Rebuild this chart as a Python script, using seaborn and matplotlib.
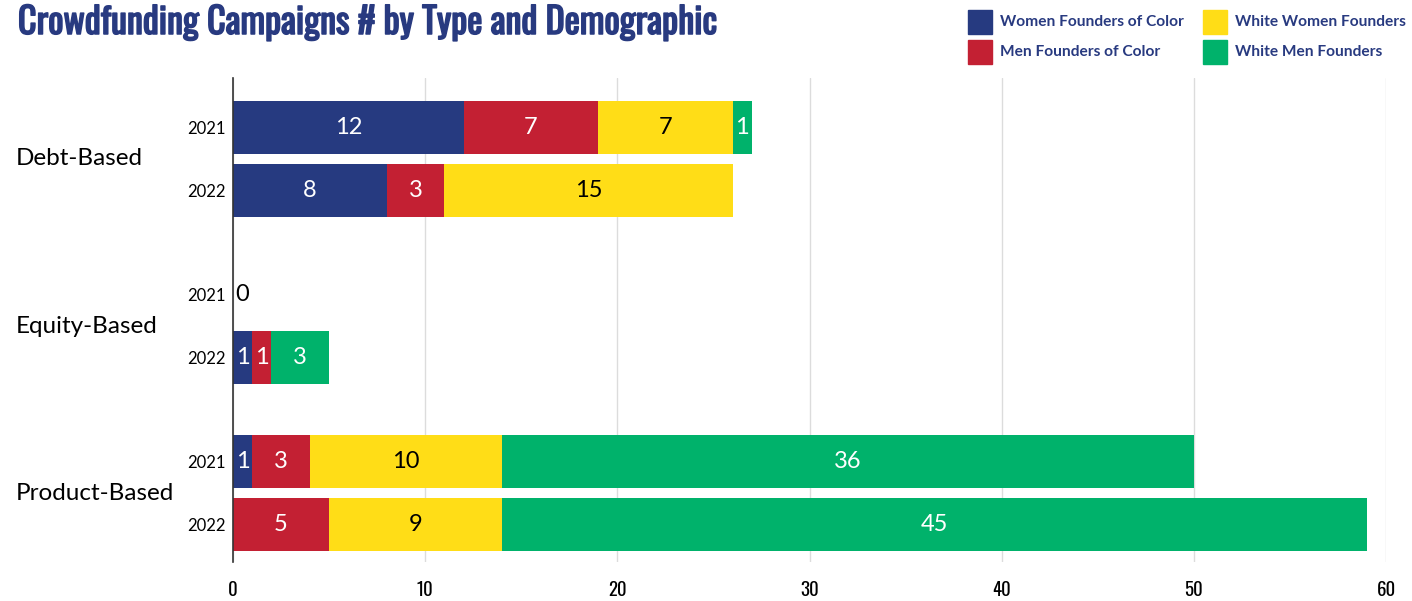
import numpy as np
import pandas as pd
import matplotlib
matplotlib.use("Agg")
import matplotlib.pyplot as plt
from matplotlib.patches import Rectangle
from matplotlib import font_manager
import matplotlib.patheffects as pe
import seaborn as sns

# Campaign counts per funding type and year
types = ["Debt-Based", "Equity-Based", "Product-Based"]
years = ["2021", "2022", "2021", "2022", "2021", "2022"]
row_type = ["Debt-Based", "Debt-Based", "Equity-Based", "Equity-Based", "Product-Based", "Product-Based"]
women_color = [12, 8, 0, 1, 1, 0]
men_color = [7, 3, 0, 1, 3, 5]
white_women = [7, 15, 0, 0, 10, 9]
white_men = [1, 0, 0, 3, 36, 45]

series_names = ["Women Founders of Color", "Men Founders of Color",
                "White Women Founders", "White Men Founders"]
series_colors = ["#263a80", "#c32033", "#ffdd17", "#00b26b"]
label_colors = ["white", "white", "black", "white"]

# vertical slot of each bar row (pairs grouped by funding type)
row_pos = np.array([0.0, 1.0, 2.65, 3.65, 5.3, 6.3])

sns.set_theme(style="white")
plt.rcParams["font.family"] = ["Lato", "DejaVu Sans"]

# pick a narrow face for the title and axis numbers if one is installed
names = {f.name for f in font_manager.fontManager.ttflist}
narrow = None
for cand in ["Oswald", "Roboto Condensed", "Liberation Sans Narrow",
             "DejaVu Sans Condensed", "Open Sans Condensed", "Noto Sans Condensed"]:
    if cand in names:
        narrow = cand
        break
narrow_family = [narrow] if narrow else ["DejaVu Sans"]

fig = plt.figure(figsize=(14.12, 6.01), dpi=100)
ax = fig.add_axes([233 / 1412, 1 - 562 / 601, (1386 - 233) / 1412, (562 - 78) / 601])

values = np.array([women_color, men_color, white_women, white_men], dtype=float)
cum = np.cumsum(values, axis=0)

# stacked bars: draw the running totals from the longest to the shortest
for k in range(3, -1, -1):
    df = pd.DataFrame({"total": cum[k], "pos": row_pos})
    sns.barplot(data=df, x="total", y="pos", orient="y", native_scale=True,
                color=series_colors[k], saturation=1, width=0.84,
                errorbar=None, linewidth=0, ax=ax, zorder=3)

# value labels in the middle of each segment
for k in range(4):
    for i in range(len(row_pos)):
        v = values[k, i]
        if v > 0:
            xc = cum[k, i] - v / 2
            ax.text(xc, row_pos[i], f"{int(v)}", ha="center", va="center",
                    color=label_colors[k], fontsize=17, zorder=5)
# empty row
for i in range(len(row_pos)):
    if values[:, i].sum() == 0:
        ax.text(0.1, row_pos[i], "0", ha="left", va="center",
                color="black", fontsize=17, zorder=5)

ax.set_xlim(0, 60)
ax.set_ylim(6.887, -0.778)
ax.set_xticks(np.arange(0, 61, 10))
ax.set_xticklabels([str(t) for t in range(0, 61, 10)],
                   fontfamily=narrow_family, fontstretch="condensed", fontsize=13.5)
ax.set_yticks(row_pos)
ax.set_yticklabels(years, fontsize=12)
ax.set_xlabel("")
ax.set_ylabel("")
ax.tick_params(axis="x", length=0, pad=14, colors="black")
ax.tick_params(axis="y", length=0, pad=5.5, colors="black")
ax.grid(axis="x", color="#dcdcdc", linewidth=1, zorder=0)
ax.set_axisbelow(True)
for s in ["top", "right", "bottom"]:
    ax.spines[s].set_visible(False)
ax.spines["left"].set_color("#333333")
ax.spines["left"].set_linewidth(1.2)
ax.spines["left"].set_zorder(6)

# funding type labels to the left of the year ticks
for j, t in enumerate(types):
    yc = (row_pos[2 * j] + row_pos[2 * j + 1]) / 2
    y_fig = ax.transData.transform((0, yc))[1]
    fig.text(16 / 1412, y_fig / fig.bbox.height, t, ha="left", va="center",
             fontsize=17.5, color="black")

# title (stroked to give the narrow face a heavy weight)
title_color = "#283a80"
fig.text(18 / 1412, 1 - 23 / 601, "Crowdfunding Campaigns # by Type and Demographic",
         ha="left", va="center", fontsize=26, fontweight="bold", color=title_color,
         fontfamily=narrow_family, fontstretch="condensed",
         path_effects=[pe.withStroke(linewidth=1.1, foreground=title_color)])

# legend
leg_x = [968, 968, 1203, 1203]
leg_y = [22, 52, 22, 52]
for k in range(4):
    fig.patches.append(Rectangle(((leg_x[k]) / 1412, 1 - (leg_y[k] + 12) / 601),
                                 24 / 1412, 24 / 601, transform=fig.transFigure,
                                 color=series_colors[k], figure=fig))
    fig.text((leg_x[k] + 32) / 1412, 1 - leg_y[k] / 601, series_names[k],
             ha="left", va="center", fontsize=11.2, fontweight="bold", color="#283a80")

fig.savefig("out.png", dpi=100)
